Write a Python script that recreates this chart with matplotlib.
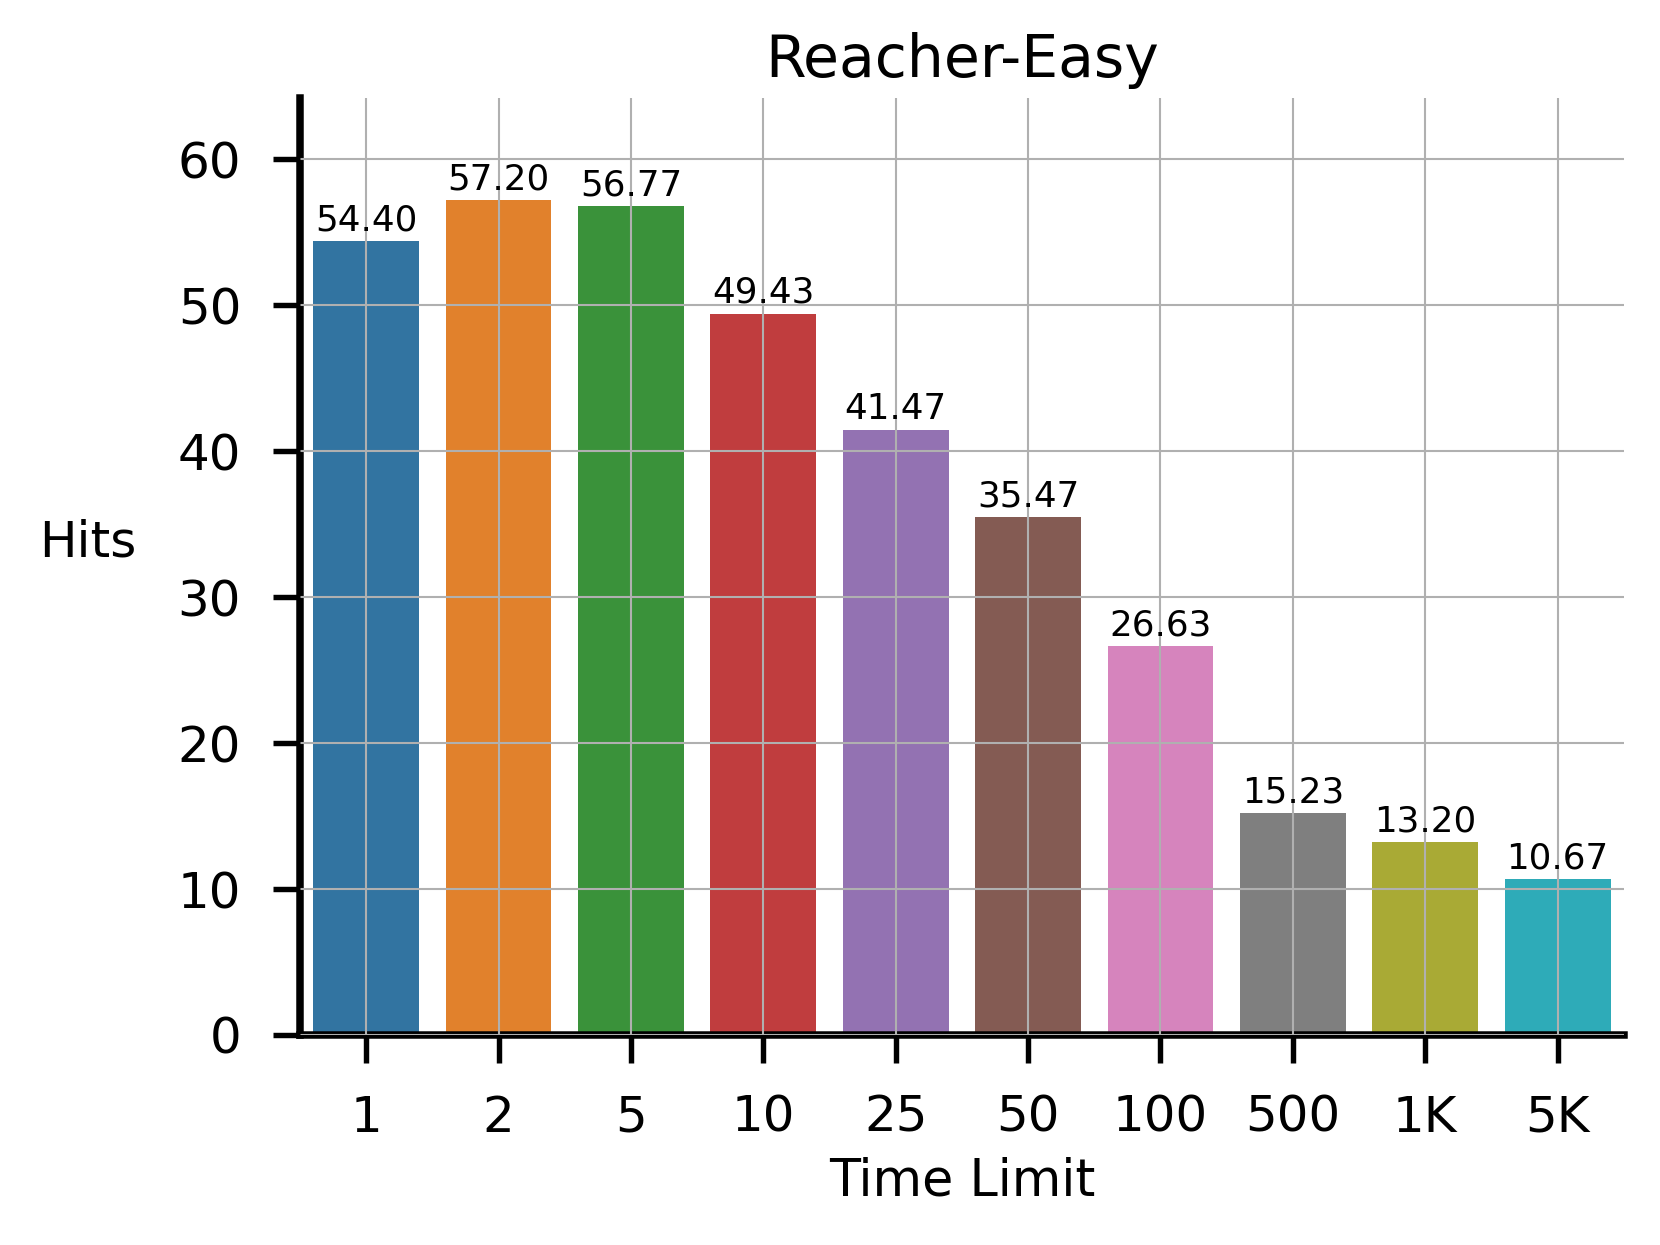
import matplotlib
matplotlib.use("Agg")
import matplotlib.pyplot as plt
import seaborn as sns

limites = ["1", "2", "5", "10", "25", "50", "100", "500", "1K", "5K"]
hits = [54.40, 57.20, 56.77, 49.43, 41.47, 35.47, 26.63, 15.23, 13.20, 10.67]

plt.rcParams['font.family'] = ['DejaVu Sans']

fig = plt.figure(figsize=(1660 / 300, 1245 / 300), dpi=300)
ax = fig.add_axes([0.1807, 0.1687, 0.7975, 0.7526])

sns.barplot(x=limites, y=hits, hue=limites, palette="tab10", legend=False, ax=ax)

for p, v in zip(ax.patches, hits):
    ax.text(p.get_x() + p.get_width() / 2, v + 0.25, f"{v:.2f}",
            ha="center", va="bottom", fontsize=8.6)

ax.set_axisbelow(False)
ax.grid(True, color="#b0b0b0", linewidth=0.5)
ax.set_xlim(-0.5, 9.5)
ax.set_ylim(0, 64.2)
ax.set_yticks([0, 10, 20, 30, 40, 50, 60])

for s in ["top", "right"]:
    ax.spines[s].set_visible(False)
for s in ["left", "bottom"]:
    ax.spines[s].set_linewidth(1.8)
ax.tick_params(axis="both", length=6.6, width=1.3, labelsize=12, pad=7.5)

ax.set_title("Reacher-Easy", fontsize=14, pad=5)
ax.set_xlabel("Time Limit", fontsize=12.2, labelpad=3.5)
ax.set_ylabel("Hits", fontsize=12, rotation=0, ha="center", va="center")
ax.yaxis.set_label_coords(-0.16, 0.526)

fig.savefig("out.png", dpi=300)
